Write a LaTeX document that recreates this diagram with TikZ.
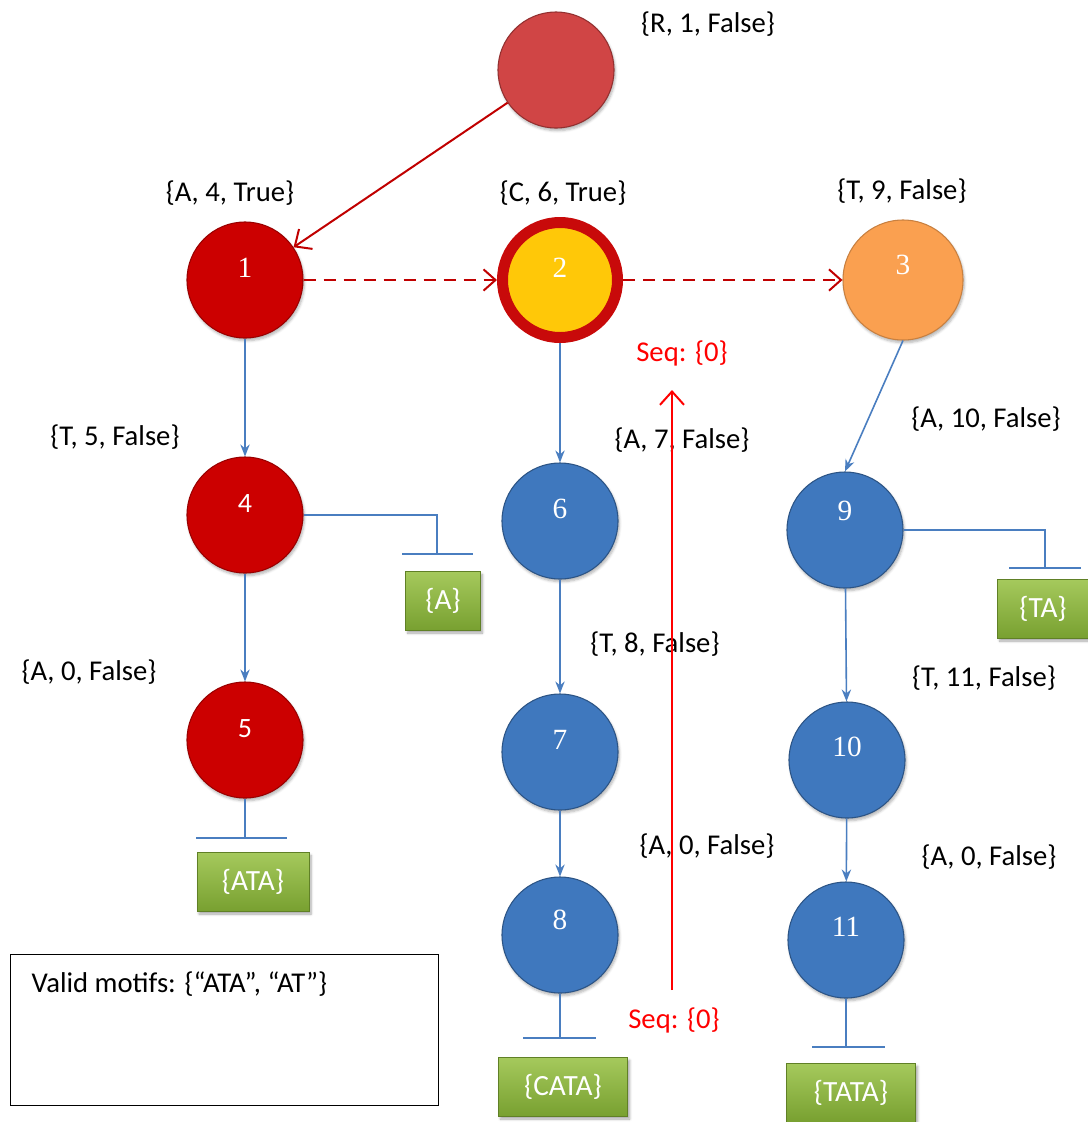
\documentclass[tikz,border=0pt]{standalone}
\usepackage{fontspec}
\setmainfont{Carlito}
\newfontfamily\numfont{Liberation Serif}
\usetikzlibrary{arrows.meta,shadows.blur}

\definecolor{rootred}{HTML}{D04545}
\definecolor{deepred}{HTML}{CC0000}
\definecolor{ringred}{HTML}{C80A0A}
\definecolor{gold}{HTML}{FFC808}
\definecolor{orangeball}{HTML}{FAA050}
\definecolor{blueball}{HTML}{3F78BE}
\definecolor{bluelink}{HTML}{4A7EC0}
\definecolor{linkred}{HTML}{C00000}
\definecolor{boxgreentop}{HTML}{A5C95C}
\definecolor{boxgreenbot}{HTML}{78A030}

% node numbers sit a little above the centre of each ball
\newcommand{\ballnum}[2][2pt]{\raisebox{#1}[0pt][0pt]{#2}}

\tikzset{
  ball/.style={circle, minimum size=87pt, inner sep=0pt, text=white,
    blur shadow={shadow xshift=1pt, shadow yshift=-2pt, shadow blur steps=5, shadow opacity=30}},
  redball/.style={ball, fill=deepred, draw=deepred!75!black, line width=0.8pt},
  rootball/.style={ball, fill=rootred, draw=rootred!70!black, line width=0.8pt},
  ringball/.style={ball, minimum size=86.25pt, fill=gold, draw=ringred, line width=8.25pt},
  orangeball/.style={ball, minimum size=90pt, fill=orangeball, draw=orangeball!80!black, line width=0.8pt},
  blueball/.style={ball, fill=blueball, draw=blueball!70!black, line width=0.8pt},
  serifnum/.style={font=\numfont\fontsize{22}{24}\selectfont},
  sansnum/.style={font=\fontsize{21}{23}\selectfont},
  result/.style={rectangle, minimum height=44pt, inner sep=0pt, text=white,
    top color=boxgreentop, bottom color=boxgreenbot, draw=boxgreenbot!80!black, line width=0.6pt,
    font=\fontsize{22}{24}\selectfont,
    blur shadow={shadow xshift=1.5pt, shadow yshift=-2pt, shadow blur steps=5, shadow opacity=35}},
  tag/.style={font=\fontsize{21.5}{24}\selectfont, inner sep=1pt},
  seqtag/.style={tag, text=red},
  treelink/.style={draw=bluelink, line width=1.2pt, -{Stealth[length=9pt,width=7pt]}},
  stub/.style={draw=bluelink, line width=1.2pt},
  sibling/.style={draw=linkred, line width=1.5pt, dashed, dash pattern=on 9pt off 6pt,
    -{Straight Barb[length=9pt,width=16pt,line width=1.5pt]}},
  rootlink/.style={draw=linkred, line width=1.5pt,
    -{Straight Barb[length=10pt,width=18pt,line width=1.5pt]}},
  seqlink/.style={draw=red, line width=1.5pt,
    -{Straight Barb[length=10pt,width=18pt,line width=1.5pt]}},
}

\begin{document}
\begin{tikzpicture}[x=0.75pt, y=-0.75pt]
\useasboundingbox (0,0) rectangle (1088,1122);

% trie nodes
\node[rootball] (root) at (556,70) {};
\node[redball, serifnum] (n1) at (245,280) {\ballnum{1}};
\node[ringball, serifnum] (n2) at (560,280) {\ballnum{2}};
\node[orangeball, serifnum] (n3) at (903,280) {\ballnum[4pt]{3}};
\node[redball, sansnum] (n4) at (245,515) {\ballnum{4}};
\node[redball, sansnum] (n5) at (245,740) {\ballnum{5}};
\node[blueball, serifnum] (n6) at (560,521) {\ballnum{6}};
\node[blueball, serifnum] (n7) at (560,752) {\ballnum{7}};
\node[blueball, serifnum] (n8) at (560,935) {\ballnum[4pt]{8}};
\node[blueball, serifnum] (n9) at (845,530) {\ballnum[7pt]{9}};
\node[blueball, serifnum] (n10) at (847,760) {\ballnum[3pt]{10}};
\node[blueball, serifnum] (n11) at (846,940) {\ballnum[3pt]{11}};

% node attributes
\node[tag] (lroot) at (708,24) {\{R, 1, False\}};
\node[tag] (l1) at (230,193) {\{A, 4, True\}};
\node[tag] (l2) at (563,193) {\{C, 6, True\}};
\node[tag] (l3) at (902,191) {\{T, 9, False\}};
\node[tag] (l4) at (115,437) {\{T, 5, False\}};
\node[tag] (l6) at (682,440) {\{A, 7, False\}};
\node[tag] (l9) at (986,419) {\{A, 10, False\}};
\node[tag] (l5) at (89,672) {\{A, 0, False\}};
\node[tag] (l7) at (655,644) {\{T, 8, False\}};
\node[tag] (l10) at (984,678) {\{T, 11, False\}};
\node[tag] (l8) at (707,846) {\{A, 0, False\}};
\node[tag] (l11) at (989,857) {\{A, 0, False\}};

% output motifs
\node[result, minimum width=56pt] (oA) at (443,601) {\{A\}};
\node[result, minimum width=84pt] (oATA) at (253,882) {\{ATA\}};
\node[result, minimum width=97pt] (oCATA) at (563,1087) {\{CATA\}};
\node[result, minimum width=68pt] (oTA) at (1043,609) {\{TA\}};
\node[result, minimum width=97pt] (oTATA) at (851,1093) {\{TATA\}};

% root and sibling links
\draw[rootlink] (root) -- (n1);
\draw[sibling] (n1.east) -- (n2.west);
\draw[sibling] (n2.east) -- (n3.west);

% child links
\draw[treelink] (n1) -- (n4);
\draw[treelink] (n4) -- (n5);
\draw[treelink] (n2) -- (n6);
\draw[treelink] (n6) -- (n7);
\draw[treelink] (n7) -- (n8);
\draw[treelink] (n3.south) -- (n9.north);
\draw[treelink] (n9) -- (n10);
\draw[treelink] (n10) -- (n11);

% terminators above the output boxes
\coordinate (tA) at (437,554);
\coordinate (tAl) at (402,554);
\coordinate (tAr) at (473,554);
\draw[stub] (n4.east) -| (tA);
\draw[stub] (tAl) -- (tAr);

\coordinate (tTA) at (1045,568);
\coordinate (tTAl) at (1009,568);
\coordinate (tTAr) at (1081,568);
\draw[stub] (n9.east) -| (tTA);
\draw[stub] (tTAl) -- (tTAr);

\coordinate (tATA) at (245,838);
\coordinate (tATAl) at (196,838);
\coordinate (tATAr) at (287,838);
\draw[stub] (n5.south) -- (tATA);
\draw[stub] (tATAl) -- (tATAr);

\coordinate (tCATA) at (560,1038);
\coordinate (tCATAl) at (523,1038);
\coordinate (tCATAr) at (596,1038);
\draw[stub] (n8.south) -- (tCATA);
\draw[stub] (tCATAl) -- (tCATAr);

\coordinate (tTATA) at (846,1047);
\coordinate (tTATAl) at (812,1047);
\coordinate (tTATAr) at (885,1047);
\draw[stub] (n11.south) -- (tTATA);
\draw[stub] (tTATAl) -- (tTATAr);

% sequence pointer
\coordinate (seqfrom) at (672,990);
\coordinate (seqto) at (672,390);
\draw[seqlink] (seqfrom) -- (seqto);
\node[seqtag] (seqtop) at (682,353) {Seq: \{0\}};
\node[seqtag] (seqbot) at (674,1020) {Seq: \{0\}};

% legend
\node[draw=black, line width=0.8pt, minimum width=321pt, minimum height=113.25pt,
      inner sep=0pt, anchor=north west] (legend) at (10,954) {};
\node[tag, anchor=west] (legendtxt) at (30,984) {Valid motifs: \{“ATA”, “AT”\}};
\end{tikzpicture}
\end{document}
